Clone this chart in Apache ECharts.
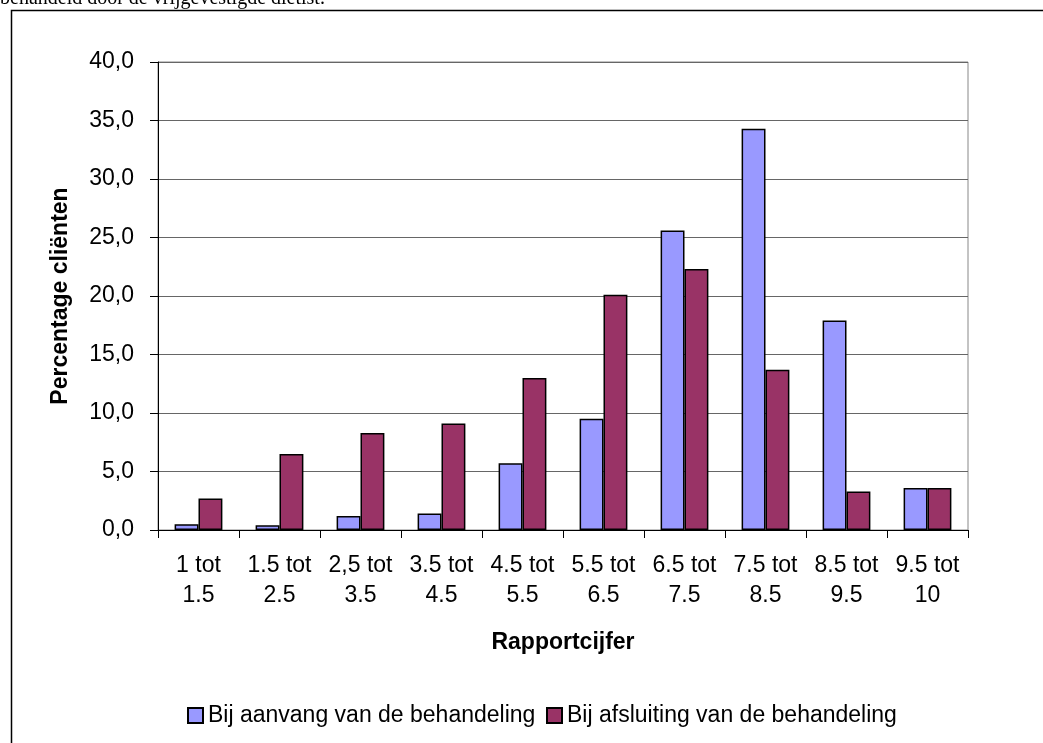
<!DOCTYPE html>
<html>
<head>
<meta charset="utf-8">
<script src="https://cdn.jsdelivr.net/npm/echarts@6/dist/echarts.min.js"></script>
<style>
  html, body { margin: 0; padding: 0; background: #fff; }
  #chart { width: 1043px; height: 743px; }
</style>
</head>
<body>
<div id="chart"></div>
<script>
// Rapportcijfer-klassen (x-as)
const categories = ['1 tot\n1.5', '1.5 tot\n2.5', '2,5 tot\n3.5', '3.5 tot\n4.5', '4.5 tot\n5.5',
                    '5.5 tot\n6.5', '6.5 tot\n7.5', '7.5 tot\n8.5', '8.5 tot\n9.5', '9.5 tot\n10'];
// Percentage cliënten per klasse
const aanvang    = [0.5, 0.4, 1.2, 1.4, 5.7, 9.5, 25.6, 34.3, 17.9, 3.6];
const afsluiting = [2.7, 6.5, 8.3, 9.1, 13.0, 20.1, 22.3, 13.7, 3.3, 3.6];
const seriesNames = ['Bij aanvang van de behandeling', 'Bij afsluiting van de behandeling'];
const yTicks = { min: 0, max: 40, interval: 5 };

const font = '"Liberation Sans", Arial, sans-serif';
const fs = 23;
const chart = echarts.init(document.getElementById('chart'));

const legendBase = {
  top: 699,
  icon: 'rect',
  itemWidth: 15, itemHeight: 15, itemGap: 8,
  textStyle: { fontFamily: font, fontSize: fs, color: '#000' }
};

chart.setOption({
  animation: false,
  backgroundColor: '#fff',
  textStyle: { fontFamily: font, color: '#000' },
  graphic: [
    {
      type: 'text', left: 0, top: -11, silent: true,
      style: { text: 'behandeld door de vrijgevestigde diëtist.', font: '20px "Liberation Serif", "Times New Roman", serif', fill: '#000' }
    },
    {
      type: 'rect', silent: true,
      shape: { x: 11.5, y: 10.5, width: 1100, height: 800 },
      style: { fill: 'none', stroke: '#000', lineWidth: 1.5 }
    }
  ],
  grid: {
    left: 158, right: 75, top: 62, bottom: 213,
    show: true, borderColor: '#888', borderWidth: 1, backgroundColor: 'transparent'
  },
  legend: [
    Object.assign({ left: 182, data: [seriesNames[0]] }, legendBase),
    Object.assign({ left: 541, data: [seriesNames[1]] }, legendBase)
  ],
  xAxis: {
    type: 'category',
    data: categories,
    name: 'Rapportcijfer',
    nameLocation: 'middle',
    nameGap: 101,
    nameTextStyle: { fontFamily: font, fontSize: fs, fontWeight: 'bold', color: '#000' },
    axisLine: { lineStyle: { color: '#000', width: 1 } },
    axisTick: { show: true, alignWithLabel: false, length: 8, lineStyle: { color: '#000' } },
    axisLabel: { fontFamily: font, fontSize: fs, color: '#000', lineHeight: 30, margin: 21, interval: 0 }
  },
  yAxis: {
    type: 'value',
    min: yTicks.min, max: yTicks.max, interval: yTicks.interval,
    name: 'Percentage cliënten',
    nameLocation: 'middle',
    nameGap: 86,
    nameTextStyle: { fontFamily: font, fontSize: fs, fontWeight: 'bold', color: '#000' },
    axisLine: { show: true, lineStyle: { color: '#000', width: 1 } },
    axisTick: { show: true, length: 8, lineStyle: { color: '#000' } },
    axisLabel: {
      fontFamily: font, fontSize: fs, color: '#000', margin: 24,
      formatter: v => v.toFixed(1).replace('.', ',')
    },
    splitLine: { lineStyle: { color: '#666', width: 1 } }
  },
  series: [
    {
      name: seriesNames[0], type: 'bar', data: aanvang,
      barGap: '0%', barCategoryGap: '41%',
      itemStyle: { color: '#9999FF', borderColor: '#000', borderWidth: 1.5 }
    },
    {
      name: seriesNames[1], type: 'bar', data: afsluiting,
      barGap: '0%', barCategoryGap: '41%',
      itemStyle: { color: '#993366', borderColor: '#000', borderWidth: 1.5 }
    }
  ]
});
</script>
</body>
</html>
